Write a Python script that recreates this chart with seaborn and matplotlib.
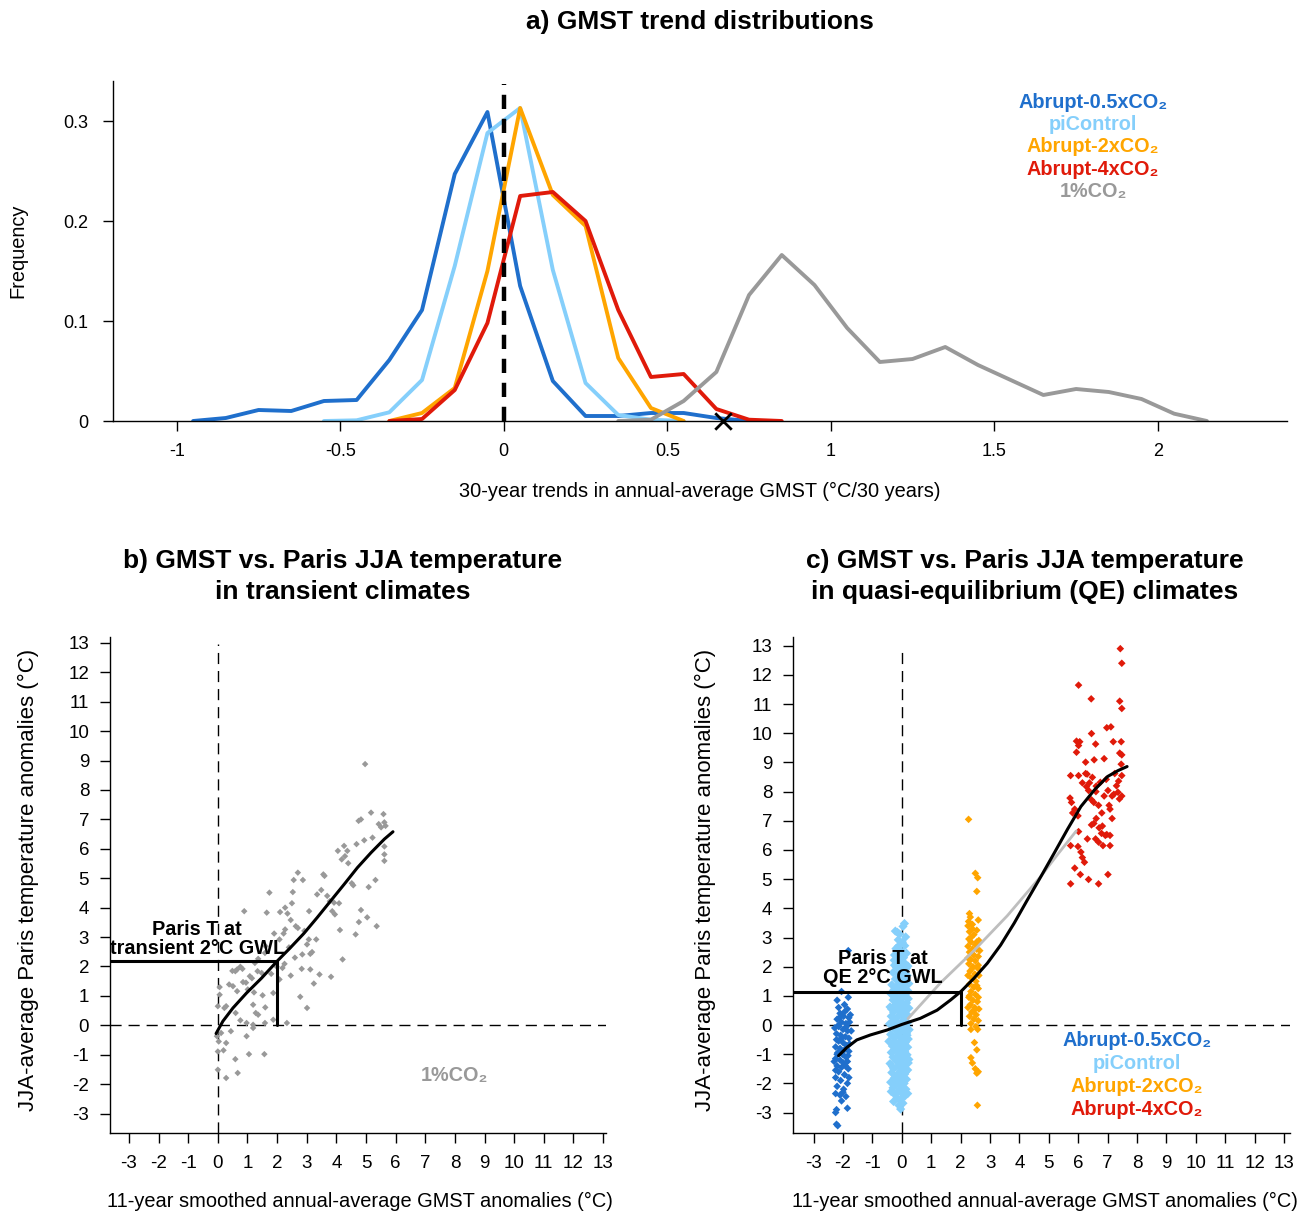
import numpy as np
import pandas as pd
import matplotlib
matplotlib.use("Agg")
import matplotlib.pyplot as plt
import seaborn as sns

# ---------------- data: panel a (histogram frequencies) ----------------
half_x = [-0.95, -0.85, -0.75, -0.65, -0.55, -0.45, -0.35, -0.25, -0.15, -0.05,
          0.05, 0.15, 0.25, 0.35, 0.45, 0.55, 0.65, 0.75]
half_y = [0.0, 0.003, 0.011, 0.010, 0.020, 0.021, 0.061, 0.111, 0.247, 0.309,
          0.135, 0.040, 0.005, 0.005, 0.008, 0.008, 0.003, 0.0]
pi_x = [-0.55, -0.45, -0.35, -0.25, -0.15, -0.05, 0.05, 0.15, 0.25, 0.35, 0.45, 0.55]
pi_y = [0.0, 0.0007, 0.0087, 0.041, 0.155, 0.288, 0.313, 0.151, 0.038, 0.006, 0.0013, 0.0]
x2_x = [-0.35, -0.25, -0.15, -0.05, 0.05, 0.15, 0.25, 0.35, 0.45, 0.55]
x2_y = [0.0, 0.008, 0.033, 0.150, 0.313, 0.226, 0.195, 0.063, 0.013, 0.0]
x4_x = [-0.35, -0.25, -0.15, -0.05, 0.05, 0.15, 0.25, 0.35, 0.45, 0.55, 0.65, 0.75, 0.85]
x4_y = [0.0, 0.002, 0.031, 0.098, 0.225, 0.229, 0.200, 0.111, 0.044, 0.047, 0.012, 0.0013, 0.0]
pct_x = [0.35, 0.45, 0.55, 0.65, 0.75, 0.85, 0.95, 1.05, 1.15, 1.25, 1.35, 1.45,
         1.55, 1.65, 1.75, 1.85, 1.95, 2.05, 2.15]
pct_y = [0.0, 0.0013, 0.020, 0.049, 0.126, 0.166, 0.136, 0.093, 0.059, 0.062, 0.074,
         0.056, 0.041, 0.026, 0.032, 0.029, 0.022, 0.0073, 0.0]
obs_trend = [0.67]
a_xticks = [-1, -0.5, 0, 0.5, 1, 1.5, 2]
a_xticklabels = ["-1", "-0.5", "0", "0.5", "1", "1.5", "2"]
a_yticks = [0, 0.1, 0.2, 0.3]
a_yticklabels = ["0", "0.1", "0.2", "0.3"]

# ---------------- data: panel b (1%CO2 transient) ----------------
b_pts = [
    (4.97, 8.88), (5.17, 7.23), (4.83, 7.0), (4.75, 6.95), (5.59, 7.18), (5.43, 6.84),
    (5.51, 6.73), (5.62, 6.9), (5.66, 6.78), (4.94, 6.29), (5.22, 6.38), (4.68, 6.16),
    (5.62, 6.08), (5.62, 5.81), (5.62, 5.59), (4.05, 5.93), (4.26, 6.1), (4.37, 5.93),
    (4.18, 5.64), (4.4, 5.51), (4.29, 5.75), (2.70, 5.19), (2.87, 4.94), (2.56, 4.94),
    (3.56, 5.13), (3.6, 5.08), (3.49, 4.6), (3.35, 4.45), (3.69, 4.4), (4.52, 4.83),
    (4.57, 4.76), (5.09, 4.7), (5.32, 4.94), (1.74, 4.51), (2.53, 4.53), (2.5, 4.15),
    (2.27, 4.0), (2.35, 3.8), (2.1, 3.85), (1.65, 3.83), (0.89, 3.88), (3.08, 3.88),
    (3.78, 4.22), (3.92, 4.17), (4.09, 4.15), (3.86, 3.88), (3.95, 3.77), (4.83, 3.92),
    (4.76, 3.51), (5.04, 3.67), (5.36, 3.37), (4.65, 3.09), (4.12, 3.24), (2.46, 3.58),
    (2.63, 3.37), (2.27, 3.26), (2.22, 3.12), (1.9, 3.12), (2.08, 2.92), (2.7, 3.31),
    (2.92, 3.21), (3.07, 2.92), (3.32, 2.92), (3.01, 2.75), (3.18, 2.49), (3.12, 2.43),
    (2.85, 2.41), (4.21, 2.24), (2.25, 2.09), (2.18, 1.95), (2.83, 1.92), (3.12, 1.9),
    (3.43, 1.73), (3.82, 1.65), (2.46, 1.69), (2.08, 1.56), (3.24, 1.42), (2.78, 0.97),
    (3.01, 0.59), (2.33, 0.08), (0.65, 1.9), (0.59, 1.84), (0.76, 1.99), (0.83, 1.92),
    (0.49, 1.85), (1.25, 2.12), (1.36, 2.26), (1.59, 2.46), (1.61, 2.69), (1.34, 1.84),
    (1.48, 1.78), (1.08, 1.67), (0.85, 1.47), (0.65, 1.16), (0.38, 1.39), (0.51, 1.33),
    (1.01, 1.22), (1.22, 1.12), (1.51, 1.02), (1.87, 1.1), (0.06, 1.3), (0.06, 1.04),
    (0.28, 0.65), (0.0, 0.65), (0.22, 0.59), (0.6, 0.42), (0.76, 0.17), (1.19, 0.7),
    (1.28, 0.42), (1.36, 0.36), (1.6, 0.61), (1.59, 0.08), (1.87, 0.19), (0.97, 0.08),
    (1.19, 0.02), (0.44, -0.2), (0.11, -0.26), (-0.03, -0.37), (0.97, -0.37),
    (1.19, -0.09), (0.28, -0.6), (0.03, -0.55), (0.19, -0.85), (0.0, -0.89),
    (1.05, -0.98), (1.57, -0.98), (0.59, -1.15), (0.67, -1.62), (0.0, -1.51), (0.28, -1.79),
    (1.98, 2.0), (1.8, 1.75), (0.95, 1.45), (1.15, 1.6), (2.4, 2.65), (2.6, 2.3),
]
b_x = [p[0] for p in b_pts]
b_y = [p[1] for p in b_pts]
b_fit_x = [-0.06, 0.17, 0.51, 0.97, 1.48, 2.0, 2.44, 2.9, 3.35, 3.8, 4.26, 4.71,
           5.17, 5.62, 5.91]
b_fit_y = [-0.28, 0.14, 0.59, 1.10, 1.61, 2.18, 2.63, 3.12, 3.66, 4.22, 4.79, 5.36,
           5.87, 6.33, 6.58]
b_paris_2c = 2.18

# ---------------- data: panel c (quasi-equilibrium) ----------------
half_pts = [
    (-1.82, 2.55), (-2.05, 1.15), (-1.82, 0.95), (-2.2, 0.85), (-2.15, 0.6), (-1.95, 0.7),
    (-1.85, 0.55), (-2.1, 0.4), (-1.98, 0.3), (-1.8, 0.25), (-2.2, 0.2), (-2.05, 0.1),
    (-1.9, 0.05), (-1.78, 0.1), (-2.15, -0.05), (-2.0, -0.15), (-1.85, -0.2), (-2.22, -0.3),
    (-2.08, -0.35), (-1.92, -0.4), (-1.8, -0.45), (-2.15, -0.55), (-2.0, -0.6), (-1.88, -0.7),
    (-2.25, -0.75), (-2.1, -0.8), (-1.95, -0.85), (-1.8, -0.9), (-2.18, -0.95), (-2.02, -1.0),
    (-1.9, -1.1), (-2.25, -1.15), (-2.1, -1.2), (-1.85, -1.25), (-1.98, -1.3), (-2.2, -1.4),
    (-2.05, -1.45), (-1.82, -1.5), (-2.15, -1.6), (-1.95, -1.7), (-2.25, -1.8), (-2.08, -1.9),
    (-1.85, -2.0), (-2.2, -2.1), (-1.98, -2.2), (-2.25, -2.35), (-2.1, -2.4), (-1.9, -2.45),
    (-2.05, -2.6), (-2.22, -2.9), (-1.85, -2.85), (-2.25, -3.0), (-2.22, -3.4), (-2.18, -3.45),
    (-2.12, 0.25), (-1.88, -0.05), (-2.05, -0.45), (-1.78, -0.65), (-2.2, -1.0), (-1.92, -1.4),
    (-2.08, -0.9), (-1.83, -1.05), (-2.15, 0.0), (-1.95, 0.45), (-2.22, -0.5), (-1.8, -1.8),
    (-2.0, -2.3), (-2.25, -1.55), (-1.75, 0.35), (-1.72, -0.2), (-2.28, -0.1), (-2.3, -1.25),
]
pic_pts = [
    (0.09, 3.48), (0.04, 3.38), (-0.22, 3.22), (-0.15, 3.18), (-0.08, 3.12), (0.13, 3.02),
    (-0.12, 2.92), (0.02, 2.84), (0.1, 2.72), (-0.2, 2.62), (-0.04, 2.55), (0.16, 2.46),
    (-0.14, 2.38), (0.06, 2.31), (-0.26, 2.22), (-0.06, 2.16), (0.12, 2.1), (0.21, 2.02),
    (-0.18, 1.98), (-0.02, 1.92), (0.08, 1.86), (-0.3, 1.8), (-0.1, 1.76), (0.18, 1.7),
    (0.0, 1.64), (-0.22, 1.58), (0.14, 1.52), (-0.06, 1.47), (0.24, 1.42), (-0.34, 1.38),
    (-0.14, 1.33), (0.06, 1.28), (-0.26, 1.22), (0.2, 1.18), (-0.02, 1.12), (-0.38, 1.08),
    (0.12, 1.04), (-0.18, 0.98), (0.02, 0.94), (0.22, 0.9), (-0.3, 0.86), (-0.08, 0.8),
    (0.16, 0.76), (-0.22, 0.7), (0.04, 0.66), (-0.4, 0.62), (0.24, 0.58), (-0.12, 0.54),
    (0.08, 0.5), (-0.28, 0.44), (-0.02, 0.4), (0.18, 0.36), (-0.36, 0.3), (-0.16, 0.26),
    (0.1, 0.22), (-0.24, 0.16), (0.0, 0.12), (0.2, 0.08), (-0.42, 0.04), (-0.1, 0.0),
    (0.14, -0.04), (-0.3, -0.08), (0.04, -0.12), (0.25, -0.16), (-0.2, -0.2), (-0.04, -0.24),
    (0.16, -0.28), (-0.38, -0.32), (-0.12, -0.36), (0.08, -0.4), (-0.26, -0.44), (0.22, -0.48),
    (-0.02, -0.52), (-0.44, -0.56), (0.12, -0.6), (-0.18, -0.64), (0.02, -0.68), (-0.32, -0.72),
    (0.2, -0.76), (-0.08, -0.8), (-0.24, -0.85), (0.1, -0.9), (-0.36, -0.94), (0.0, -0.98),
    (0.18, -1.02), (-0.14, -1.06), (-0.3, -1.1), (0.06, -1.14), (0.24, -1.18), (-0.2, -1.22),
    (-0.04, -1.27), (-0.4, -1.32), (0.14, -1.36), (-0.12, -1.4), (0.02, -1.45), (-0.28, -1.5),
    (0.2, -1.54), (-0.06, -1.58), (-0.34, -1.63), (0.1, -1.68), (-0.16, -1.72), (0.04, -1.77),
    (-0.26, -1.82), (0.16, -1.86), (-0.08, -1.91), (-0.38, -1.96), (0.08, -2.0), (-0.2, -2.05),
    (0.0, -2.1), (-0.3, -2.15), (0.14, -2.2), (-0.12, -2.26), (-0.02, -2.32), (-0.24, -2.38),
    (0.1, -2.44), (-0.16, -2.5), (-0.06, -2.56), (-0.28, -2.62), (0.04, -2.68), (-0.1, -2.75),
    (-0.04, -2.88), (-0.25, 2.05), (0.0, 2.0), (-0.1, 1.55), (0.1, 1.4), (-0.28, 1.0),
    (0.0, 0.78), (-0.15, 0.6), (0.12, 0.3), (-0.32, 0.1), (-0.05, -0.15), (0.18, -0.35),
    (-0.25, -0.55), (0.05, -0.82), (-0.1, -1.12), (0.22, -1.3), (-0.32, -1.42), (0.12, -1.62),
    (-0.22, -1.85), (0.02, -1.95), (-0.36, -2.28), (0.2, -2.35), (-0.1, -2.0), (-0.2, 1.3),
    (0.15, 0.95), (-0.35, 0.55), (0.08, 0.0), (-0.15, -0.9), (0.05, -1.5), (-0.25, 2.4),
    (0.0, 2.45), (-0.12, 2.7), (0.08, 2.05), (-0.08, 1.2), (0.16, 1.95), (-0.22, -0.05),
]
dbl_pts = [
    (2.27, 7.05), (2.5, 5.2), (2.58, 5.05), (2.55, 4.58), (2.3, 3.82), (2.33, 3.7), (2.27, 3.55),
    (2.6, 3.6), (2.25, 3.4), (2.4, 3.45), (2.3, 3.2), (2.45, 3.1), (2.28, 2.95), (2.62, 2.9),
    (2.35, 2.85), (2.5, 2.75), (2.25, 2.7), (2.4, 2.6), (2.55, 2.6), (2.3, 2.5), (2.45, 2.4),
    (2.6, 2.35), (2.35, 2.25), (2.5, 2.2), (2.28, 2.1), (2.42, 2.0), (2.58, 1.95), (2.32, 1.85),
    (2.48, 1.75), (2.62, 1.7), (2.38, 1.6), (2.52, 1.5), (2.3, 1.4), (2.45, 1.3), (2.6, 1.25),
    (2.35, 1.15), (2.5, 1.05), (2.28, 0.95), (2.42, 0.85), (2.57, 0.8), (2.33, 0.7), (2.48, 0.6),
    (2.62, 0.55), (2.38, 0.45), (2.53, 0.35), (2.3, 0.3), (2.45, 0.2), (2.6, 0.15), (2.35, 0.05),
    (2.52, -0.05), (2.58, -0.15), (2.35, -0.15), (2.47, -0.6), (2.55, -0.85), (2.35, -1.12),
    (2.4, -1.3), (2.5, -1.5), (2.6, -1.6), (2.55, -1.65), (2.57, -2.75), (2.35, 3.0),
    (2.55, 3.25), (2.25, 2.3), (2.6, 2.05), (2.4, 1.95), (2.55, 1.35), (2.3, 1.0), (2.6, 0.95),
    (2.45, 0.5), (2.25, 0.6), (2.55, 2.85), (2.4, 3.3), (2.25, 1.7), (2.65, 2.55),
]
quad_pts = [
    (7.43, 12.9), (7.48, 12.4), (6.01, 11.65), (6.44, 11.18), (7.41, 11.1), (7.48, 10.85),
    (6.97, 10.19), (7.11, 10.22), (6.45, 9.99), (5.94, 9.73), (6.05, 9.71), (6.01, 9.58),
    (6.59, 9.63), (7.19, 9.71), (7.46, 9.71), (5.94, 9.35), (6.25, 9.01), (6.54, 9.09),
    (6.88, 9.13), (7.41, 9.32), (7.48, 9.26), (7.46, 8.94), (5.74, 8.55), (6.01, 8.55),
    (6.14, 8.3), (6.25, 8.62), (6.28, 8.17), (6.38, 8.3), (6.48, 8.49), (6.61, 8.19),
    (6.75, 8.32), (6.95, 8.42), (7.24, 8.62), (7.37, 8.36), (7.48, 8.55), (7.01, 8.04),
    (7.15, 7.85), (7.21, 7.91), (7.35, 7.98), (7.48, 7.85), (5.72, 7.78), (5.77, 7.63),
    (5.88, 7.4), (5.81, 7.27), (5.99, 7.17), (6.35, 8.04), (6.45, 7.72), (6.53, 7.63),
    (6.69, 7.53), (6.8, 7.27), (6.88, 7.85), (7.05, 7.53), (7.08, 7.4), (7.15, 7.08),
    (6.45, 6.86), (6.53, 6.91), (6.61, 7.08), (6.71, 6.76), (6.79, 6.57), (6.92, 6.5),
    (6.97, 6.53), (7.08, 6.5), (6.59, 6.38), (6.69, 6.27), (6.31, 6.38), (6.01, 6.63),
    (5.74, 6.15), (5.99, 6.12), (6.09, 5.93), (6.14, 5.74), (6.21, 5.58), (5.88, 5.38),
    (6.07, 5.16), (6.84, 6.15), (7.08, 6.15), (7.01, 5.16), (6.35, 4.99), (6.69, 4.84),
    (5.74, 4.84), (6.82, 6.82), (7.3, 8.2), (6.3, 8.6), (7.4, 7.75), (6.6, 8.0),
]
c_fit_x = [-2.15, -1.87, -1.53, -1.07, -0.5, 0.0, 0.63, 1.2, 1.66, 2.02, 2.45, 2.91,
           3.36, 3.82, 4.27, 4.73, 5.18, 5.64, 6.09, 6.55, 7.0, 7.35, 7.66]
c_fit_y = [-1.05, -0.77, -0.51, -0.34, -0.17, 0.02, 0.23, 0.51, 0.86, 1.16, 1.60, 2.12,
           2.74, 3.49, 4.29, 5.09, 5.89, 6.72, 7.49, 8.06, 8.52, 8.72, 8.86]
c_lin_x = [0.21, 1.32, 2.45, 3.59, 4.73, 5.3, 5.93]
c_lin_y = [0.22, 1.45, 2.55, 3.75, 5.1, 5.85, 6.65]
c_paris_2c = 1.14
bc_ticks = list(range(-3, 14))

# ---------------- colours ----------------
C_HALF = "#1F6FCC"
C_PI = "#85CFFB"
C_2X = "#FFA500"
C_4X = "#E01A0A"
C_PCT = "#999999"
C_LIN = "#BEBEBE"

# ---------------- styling ----------------
sns.set_theme(style="ticks")
plt.rcParams["font.family"] = ["Liberation Sans", "DejaVu Sans"]
plt.rcParams["axes.unicode_minus"] = False
plt.rcParams["text.color"] = "black"
plt.rcParams["axes.labelcolor"] = "black"
plt.rcParams["axes.linewidth"] = 1.0
plt.rcParams["axes.edgecolor"] = "black"
plt.rcParams["xtick.color"] = "black"
plt.rcParams["ytick.color"] = "black"
plt.rcParams["xtick.labelcolor"] = "black"
plt.rcParams["ytick.labelcolor"] = "black"

W, H = 1304, 1216
fig = plt.figure(figsize=(W / 100, H / 100), dpi=100)


def rect(l, t, r, b):
    return [l / W, 1 - b / H, (r - l) / W, (b - t) / H]


def fpos(x, y):
    return x / W, 1 - y / H


def style_axes(ax, size, xpad, ypad):
    for s in ["top", "right"]:
        ax.spines[s].set_visible(False)
    ax.tick_params(direction="out", length=7, width=1, labelsize=size, colors="black")
    ax.tick_params(axis="x", pad=xpad)
    ax.tick_params(axis="y", pad=ypad)


SUB = "\u2082"

# ---------------- panel a ----------------
axA = fig.add_axes(rect(113, 81, 1287, 421))
for xs, ys, col in [(half_x, half_y, C_HALF), (pi_x, pi_y, C_PI), (x2_x, x2_y, C_2X),
                    (x4_x, x4_y, C_4X), (pct_x, pct_y, C_PCT)]:
    sns.lineplot(x=xs, y=ys, color=col, linewidth=2.8, ax=axA, sort=False)
axA.plot([0, 0], [0, 0.337], color="black", lw=3.2, dashes=(3.2, 2.2))
sns.scatterplot(x=obs_trend, y=[0], marker="x", s=140, color="black", linewidth=2,
                ax=axA, clip_on=False, zorder=5)
axA.set_xlim(-1.195, 2.395)
axA.set_ylim(0, 0.34)
axA.set_xticks(a_xticks)
axA.set_xticklabels(a_xticklabels)
axA.set_yticks(a_yticks)
axA.set_yticklabels(a_yticklabels)
style_axes(axA, 13, 9, 11)
axA.set_xlabel("")
axA.set_ylabel("")

fig.text(*fpos(700, 22), "a) GMST trend distributions", ha="center", va="center",
         fontsize=19, fontweight="bold")
fig.text(*fpos(18, 251), "Frequency", ha="center", va="center", rotation=90, fontsize=14.4)
fig.text(*fpos(700, 491), "30-year trends in annual-average GMST (°C/30 years)",
         ha="center", va="center", fontsize=14.4)
leg_a = [("Abrupt-0.5xCO" + SUB, C_HALF), ("piControl", C_PI),
         ("Abrupt-2xCO" + SUB, C_2X), ("Abrupt-4xCO" + SUB, C_4X),
         ("1%CO" + SUB, C_PCT)]
for i, (t, c) in enumerate(leg_a):
    fig.text(*fpos(1093, 102 + 22.5 * i), t, ha="center", va="center", color=c,
             fontsize=14.3, fontweight="bold")

# ---------------- panel b ----------------
axB = fig.add_axes(rect(110, 637, 606, 1133))
axB.plot([-3.64, 13.1], [0, 0], color="black", lw=1, dashes=(8, 5))
axB.plot([0, 0], [-3.66, 12.95], color="black", lw=1, dashes=(8, 5))
sns.scatterplot(x=b_x, y=b_y, marker="D", s=11, color=C_PCT, edgecolor="none",
                ax=axB, zorder=3)
sns.lineplot(x=b_fit_x, y=b_fit_y, color="black", linewidth=2.2, ax=axB, zorder=4)
axB.plot([-3.64, 2], [b_paris_2c, b_paris_2c], color="black", lw=2.2, zorder=4)
axB.plot([2, 2], [0, b_paris_2c], color="black", lw=2.2, zorder=4)
axB.set_xlim(-3.64, 13.1)
axB.set_ylim(-3.66, 13.2)
axB.set_xticks(bc_ticks)
axB.set_yticks(bc_ticks)
style_axes(axB, 13.5, 9, 8)
axB.set_xlabel("")
axB.set_ylabel("")
axB.text(-0.7, 2.92, "Paris T at\ntransient 2°C GWL", ha="center", va="center",
         fontsize=14.3, fontweight="bold", linespacing=1.0, zorder=6)
axB.text(8.0, -1.72, "1%CO" + SUB, ha="center", va="center", color=C_PCT,
         fontsize=14.3, fontweight="bold")
fig.text(*fpos(343, 561), "b) GMST vs. Paris JJA temperature", ha="center", va="center",
         fontsize=19, fontweight="bold")
fig.text(*fpos(343, 592), "in transient climates", ha="center", va="center",
         fontsize=19, fontweight="bold")
fig.text(*fpos(28, 880), "JJA-average Paris temperature anomalies (°C)", ha="center",
         va="center", rotation=90, fontsize=16)
fig.text(*fpos(360, 1201), "11-year smoothed annual-average GMST anomalies (°C)",
         ha="center", va="center", fontsize=14.4)

# ---------------- panel c ----------------
axC = fig.add_axes(rect(793, 637, 1290, 1133))
axC.plot([-3.7, 13.2], [0, 0], color="black", lw=1, dashes=(8, 5))
axC.plot([0, 0], [-3.7, 12.95], color="black", lw=1, dashes=(8, 5))
for pts, col, s in [(half_pts, C_HALF, 15), (pic_pts, C_PI, 22), (dbl_pts, C_2X, 15),
                    (quad_pts, C_4X, 15)]:
    sns.scatterplot(x=[p[0] for p in pts], y=[p[1] for p in pts], marker="D", s=s,
                    color=col, edgecolor="none", ax=axC, zorder=3)
sns.lineplot(x=c_lin_x, y=c_lin_y, color=C_LIN, linewidth=2, ax=axC, zorder=4)
sns.lineplot(x=c_fit_x, y=c_fit_y, color="black", linewidth=2.2, ax=axC, zorder=5)
axC.plot([-3.7, 2], [c_paris_2c, c_paris_2c], color="black", lw=2.2, zorder=5)
axC.plot([2, 2], [0, c_paris_2c], color="black", lw=2.2, zorder=5)
axC.set_xlim(-3.7, 13.2)
axC.set_ylim(-3.7, 13.3)
axC.set_xticks(bc_ticks)
axC.set_yticks(bc_ticks)
style_axes(axC, 13.5, 9, 8)
axC.set_xlabel("")
axC.set_ylabel("")
axC.text(-0.63, 1.95, "Paris T at\nQE 2°C GWL", ha="center", va="center",
         fontsize=14.3, fontweight="bold", linespacing=1.0, zorder=6)
leg_c = [("Abrupt-0.5xCO" + SUB, C_HALF), ("piControl", C_PI),
         ("Abrupt-2xCO" + SUB, C_2X), ("Abrupt-4xCO" + SUB, C_4X)]
for i, (t, c) in enumerate(leg_c):
    fig.text(*fpos(1137, 1040 + 23.3 * i), t, ha="center", va="center", color=c,
             fontsize=14.3, fontweight="bold")
fig.text(*fpos(1025, 561), "c) GMST vs. Paris JJA temperature", ha="center", va="center",
         fontsize=19, fontweight="bold")
fig.text(*fpos(1025, 592), "in quasi-equilibrium (QE) climates", ha="center", va="center",
         fontsize=19, fontweight="bold")
fig.text(*fpos(705, 880), "JJA-average Paris temperature anomalies (°C)", ha="center",
         va="center", rotation=90, fontsize=16)
fig.text(*fpos(1045, 1201), "11-year smoothed annual-average GMST anomalies (°C)",
         ha="center", va="center", fontsize=14.4)

fig.savefig("out.png", dpi=100)
